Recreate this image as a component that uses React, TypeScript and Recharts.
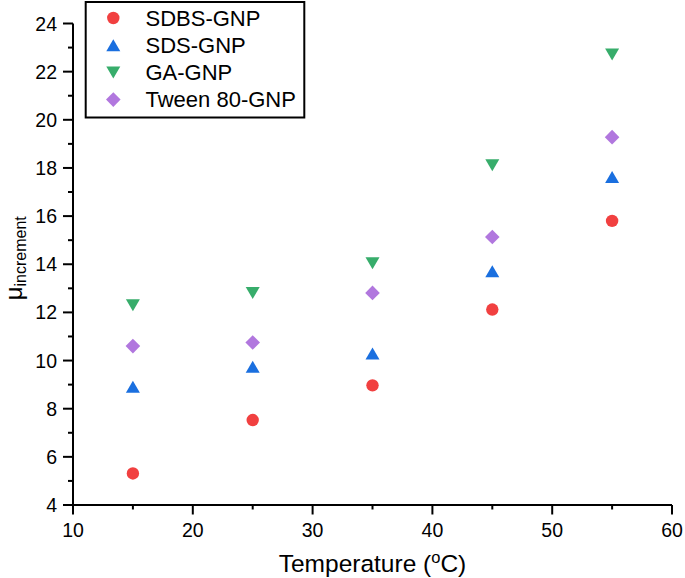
import React from 'react';
import { ScatterChart, Scatter, XAxis, YAxis, Legend } from 'recharts';

const temperatures = [15, 25, 35, 45, 55];
const sdbsGnp = [5.31, 7.53, 8.97, 12.12, 15.8];
const sdsGnp = [8.91, 9.74, 10.29, 13.71, 17.62];
const gaGnp = [12.3, 12.81, 14.04, 18.11, 22.71];
const tween80Gnp = [10.6, 10.75, 12.81, 15.13, 19.28];

const xTicks = [10, 15, 20, 25, 30, 35, 40, 45, 50, 55, 60];
const xMajorTicks = [10, 20, 30, 40, 50, 60];
const yTicks = [4, 5, 6, 7, 8, 9, 10, 11, 12, 13, 14, 15, 16, 17, 18, 19, 20, 21, 22, 23, 24];
const yMajorTicks = [4, 6, 8, 10, 12, 14, 16, 18, 20, 22, 24];

const seriesNames = ['SDBS-GNP', 'SDS-GNP', 'GA-GNP', 'Tween 80-GNP'];
const seriesColors = ['#F14040', '#1A6FDF', '#37AD6B', '#B177DE'];
const seriesShapes = ['circle', 'triangleUp', 'triangleDown', 'diamond'];
const seriesValues = [sdbsGnp, sdsGnp, gaGnp, tween80Gnp];

const FONT = '"Liberation Sans", Arial, Helvetica, sans-serif';

function marker(kind: string, cx: number, cy: number, color: string) {
  switch (kind) {
    case 'circle':
      return <circle cx={cx} cy={cy} r={6.2} fill={color} />;
    case 'triangleUp':
      return <polygon points={`${cx - 7},${cy + 6} ${cx + 7},${cy + 6} ${cx},${cy - 6}`} fill={color} />;
    case 'triangleDown':
      return <polygon points={`${cx - 7},${cy - 6} ${cx + 7},${cy - 6} ${cx},${cy + 6}`} fill={color} />;
    default:
      return <polygon points={`${cx},${cy - 7.3} ${cx + 7.3},${cy} ${cx},${cy + 7.3} ${cx - 7.3},${cy}`} fill={color} />;
  }
}

const makeShape = (kind: string, color: string) => (props: any) => (
  <g>{marker(kind, props.cx, props.cy, color)}</g>
);

const XTick = (props: any) => {
  const { x, y, payload } = props;
  const major = xMajorTicks.includes(payload.value);
  return (
    <g>
      <line x1={x} x2={x} y1={y} y2={y + (major ? 9.5 : 4.5)} stroke="#000" strokeWidth={2} />
      {major && (
        <text x={x} y={y + 32} textAnchor="middle" fontSize={19.5} fontFamily={FONT} fill="#000">
          {payload.value}
        </text>
      )}
    </g>
  );
};

const YTick = (props: any) => {
  const { x, y, payload } = props;
  const major = yMajorTicks.includes(payload.value);
  return (
    <g>
      <line x1={x} x2={x - (major ? 10 : 5)} y1={y} y2={y} stroke="#000" strokeWidth={2} />
      {major && (
        <text x={x - 16} y={y + 7} textAnchor="end" fontSize={19.5} fontFamily={FONT} fill="#000">
          {payload.value}
        </text>
      )}
    </g>
  );
};

const XLabel = (props: any) => {
  const vb = props.viewBox || { x: 73, width: 599, y: 505 };
  return (
    <text x={vb.x + vb.width / 2} y={vb.y + 67} textAnchor="middle" fontSize={24.5} fontFamily={FONT} fill="#000">
      Temperature (
      <tspan fontSize={16.5} dy={-9}>o</tspan>
      <tspan dy={9}>C)</tspan>
    </text>
  );
};

const YLabel = (props: any) => {
  const vb = props.viewBox || { x: 0, y: 23.5, height: 481.5 };
  const cy = vb.y + vb.height / 2 - 6;
  const cx = 22;
  return (
    <text x={cx} y={cy} transform={`rotate(-90, ${cx}, ${cy})`} textAnchor="middle" fontFamily={FONT} fill="#000">
      <tspan fontSize={24}>μ</tspan>
      <tspan fontSize={16} dy={4}>increment</tspan>
    </text>
  );
};

const LegendBox = () => (
  <svg width={222} height={118} style={{ display: 'block' }}>
    <rect x={1.7} y={1} width={218.6} height={115.5} fill="#fff" stroke="#000" strokeWidth={2} />
    {seriesNames.map((name, i) => {
      const cy = 17 + i * 27.2;
      return (
        <g key={name}>
          {marker(seriesShapes[i], 29.3, cy, seriesColors[i])}
          <text x={61.5} y={cy + 7.5} fontSize={22} fontFamily={FONT} fill="#000">
            {name}
          </text>
        </g>
      );
    })}
  </svg>
);

export default function App() {
  const datasets = seriesValues.map((vals) => temperatures.map((t, i) => ({ x: t, y: vals[i] })));
  return (
    <div style={{ position: 'absolute', left: 0, top: 0, width: 685, height: 578, background: '#fff' }}>
      <ScatterChart width={685} height={578} margin={{ top: 23.5, right: 13, left: 0, bottom: 0 }}>
        <XAxis
          type="number"
          dataKey="x"
          domain={[10, 60]}
          ticks={xTicks}
          interval={0}
          height={73}
          tickSize={0}
          tickMargin={0}
          tickLine={false}
          tick={<XTick />}
          axisLine={{ stroke: '#000', strokeWidth: 2 }}
          allowDataOverflow
          label={{ content: <XLabel /> }}
        />
        <YAxis
          type="number"
          dataKey="y"
          domain={[4, 24]}
          ticks={yTicks}
          interval={0}
          width={73}
          tickSize={0}
          tickMargin={0}
          tickLine={false}
          tick={<YTick />}
          axisLine={{ stroke: '#000', strokeWidth: 2 }}
          allowDataOverflow
          label={{ content: <YLabel /> }}
        />
        <Legend
          layout="horizontal"
          verticalAlign="middle"
          align="center"
          content={<LegendBox />}
          wrapperStyle={{ left: 84, top: 1, width: 222, height: 118 }}
        />
        {datasets.map((data, i) => (
          <Scatter
            key={seriesNames[i]}
            name={seriesNames[i]}
            data={data}
            fill={seriesColors[i]}
            shape={makeShape(seriesShapes[i], seriesColors[i])}
            isAnimationActive={false}
          />
        ))}
      </ScatterChart>
    </div>
  );
}
